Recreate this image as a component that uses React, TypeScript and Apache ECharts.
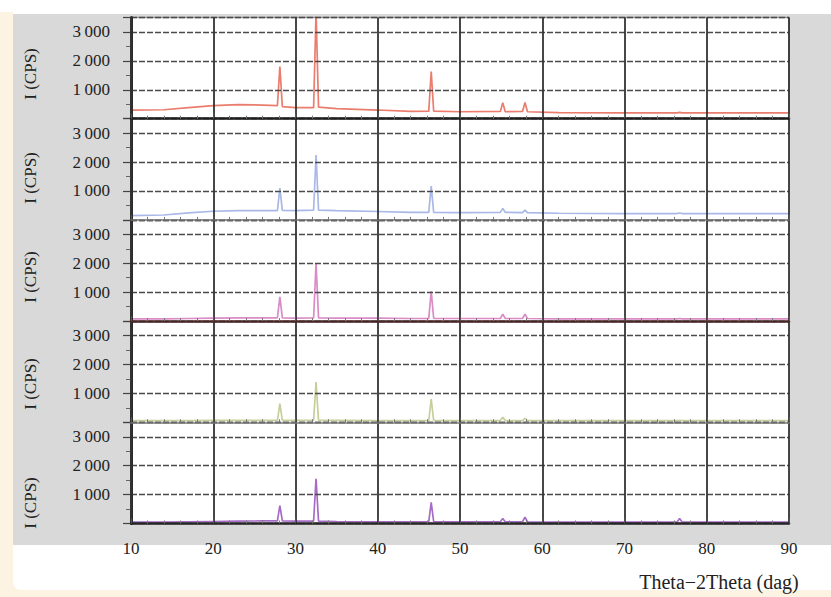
import React, { useEffect, useRef } from "react";
import * as echarts from "echarts";

// 2θ sample positions (degrees)
const twoTheta = [10, 14, 17, 20, 23, 26, 27.8, 28.1, 28.4, 30, 32.2, 32.5, 32.8, 35, 40, 44, 46.2, 46.5, 46.8, 50, 54.9, 55.2, 55.5, 57.6, 57.9, 58.2, 62, 70, 76.4, 76.7, 77.0, 90];

// Intensities (CPS) for each stacked pattern, top to bottom
const sample1 = [300, 310, 380, 450, 490, 470, 450, 1800, 420, 380, 380, 3700, 400, 350, 300, 250, 260, 1630, 260, 240, 250, 550, 240, 250, 560, 240, 210, 200, 200, 220, 200, 200];
const sample2 = [150, 170, 240, 300, 320, 320, 320, 1100, 330, 320, 340, 2240, 340, 320, 290, 260, 260, 1170, 260, 250, 260, 400, 260, 250, 340, 250, 230, 220, 220, 240, 220, 220];
const sample3 = [80, 80, 90, 100, 110, 110, 110, 840, 110, 100, 110, 2000, 110, 100, 100, 90, 90, 1030, 90, 90, 90, 240, 90, 90, 240, 90, 80, 80, 80, 90, 80, 80];
const sample4 = [60, 60, 60, 70, 70, 70, 70, 650, 70, 70, 70, 1390, 70, 70, 60, 60, 60, 800, 60, 60, 60, 170, 60, 60, 140, 60, 60, 60, 60, 70, 60, 60];
const sample5 = [50, 50, 60, 70, 80, 90, 90, 620, 90, 80, 80, 1550, 80, 70, 60, 60, 60, 730, 60, 60, 60, 170, 60, 60, 220, 60, 50, 50, 50, 170, 50, 50];

const patterns = [sample1, sample2, sample3, sample4, sample5];
const patternColors = ["#ea7d6e", "#a9b8e6", "#d98cc6", "#c6cf9c", "#a66bc6"];

const yTickLabels: Record<number, string> = { 1000: "1\u2009000", 2000: "2\u2009000", 3000: "3\u2009000" };
const xTicks = [10, 20, 30, 40, 50, 60, 70, 80, 90];
const yName = "I (CPS)";
const xName = "Theta\u22122Theta (dag)";

const SERIF = "'Liberation Serif', 'DejaVu Serif', serif";

export default function App() {
  const ref = useRef<HTMLDivElement>(null);

  useEffect(() => {
    document.body.style.margin = "0";
    const chart = echarts.init(ref.current!, undefined, { renderer: "svg" });

    const top0 = 17.5;
    const h = 101.2;
    const tops = patterns.map((_, i) => top0 + i * h);
    const sepColors = ["#1e1e1e", "#707070", "#4a2828", "#7a7a7a", "#262626"];
    const sepWidths = [2.5, 1.5, 2.5, 1.5, 2.5];
    const nameCenters = [74, 178, 277, 384, 503];

    const grid = tops.map((t, i) => ({
      left: 131,
      right: 42,
      top: t,
      height: h,
      show: true,
      backgroundColor: "#ffffff",
      borderWidth: i === 0 ? 1.5 : 0,
      borderColor: "#9a9a9a",
    }));

    const xAxis = tops.map((_, i) => ({
      type: "value",
      gridIndex: i,
      min: xTicks[0],
      max: xTicks[xTicks.length - 1],
      interval: 10,
      z: 5,
      axisLine: { show: true, onZero: false, lineStyle: { color: sepColors[i], width: sepWidths[i] } },
      axisTick: { show: true, inside: true, length: 5, lineStyle: { color: "#555", width: 1 } },
      minorTick: { show: true, splitNumber: 5, length: 3, lineStyle: { color: "#777", width: 1 } },
      splitLine: { show: true, lineStyle: { color: "#333333", width: 1.8 } },
      axisLabel: {
        show: i === tops.length - 1,
        fontFamily: SERIF,
        fontSize: 17,
        color: "#222",
        margin: 16,
      },
    }));

    const yAxis = tops.map((_, i) => ({
      type: "value",
      gridIndex: i,
      min: 0,
      max: 3500,
      interval: 1000,
      z: 4,
      axisLine: { show: true, lineStyle: { color: "#2a2a2a", width: 3 } },
      axisTick: { show: true, inside: false, length: 8, lineStyle: { color: "#444", width: 1.2 } },
      minorTick: { show: true, splitNumber: 2, length: 5, lineStyle: { color: "#666", width: 1 } },
      splitLine: { show: true, lineStyle: { color: "#4a4a4a", width: 1.4, type: [6, 2] } },
      axisLabel: {
        fontFamily: SERIF,
        fontSize: 17,
        color: "#222",
        margin: 21,
        formatter: (v: number) => yTickLabels[v] || "",
      },
    }));

    const series = patterns.map((vals, i) => ({
      type: "line",
      xAxisIndex: i,
      yAxisIndex: i,
      data: twoTheta.map((x, k) => [x, vals[k]]),
      showSymbol: false,
      clip: true,
      z: 3,
      lineStyle: { color: patternColors[i], width: 1.7 },
    }));

    const graphic: any[] = [
      { type: "rect", z: -100, shape: { x: 0, y: 12, width: 831, height: 585 }, style: { fill: "#fcf3e2" }, silent: true },
      { type: "rect", z: -99, shape: { x: 13, y: 12, width: 818, height: 578, r: [0, 0, 0, 8] }, style: { fill: "#ffffff" }, silent: true },
      { type: "rect", z: -98, shape: { x: 13, y: 14, width: 818, height: 531 }, style: { fill: "#d9d9d9" }, silent: true },
      {
        type: "text",
        z: 100,
        x: 719,
        y: 582,
        style: { text: xName, fontFamily: SERIF, fontSize: 20, fill: "#222", align: "center", verticalAlign: "middle" },
      },
      ...nameCenters.map((cy) => ({
        type: "text",
        z: 100,
        x: 30,
        y: cy,
        rotation: Math.PI / 2,
        style: { text: yName, fontFamily: SERIF, fontSize: 17, fill: "#222", align: "center", verticalAlign: "middle" },
      })),
    ];

    chart.setOption({
      animation: false,
      backgroundColor: "#ffffff",
      grid,
      xAxis,
      yAxis,
      series,
      graphic,
    });

    return () => chart.dispose();
  }, []);

  return <div ref={ref} style={{ position: "absolute", left: 0, top: 0, width: 831, height: 597 }} />;
}
